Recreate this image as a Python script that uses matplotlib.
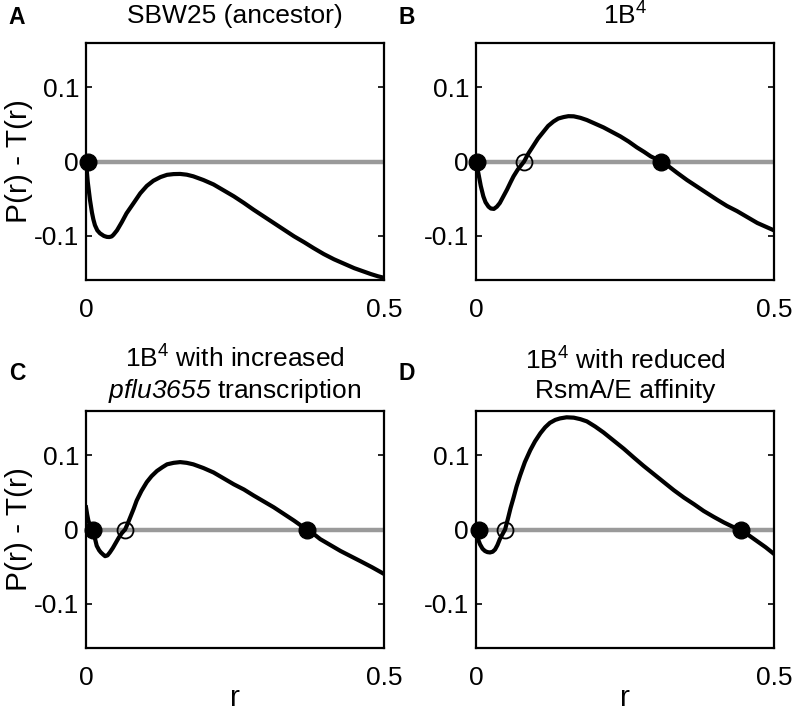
import matplotlib
matplotlib.use("Agg")
import matplotlib.pyplot as plt

plt.rcParams['font.family'] = ['Liberation Sans', 'DejaVu Sans']
plt.rcParams['mathtext.fontset'] = 'custom'
plt.rcParams['mathtext.rm'] = 'Liberation Sans'
plt.rcParams['mathtext.it'] = 'Liberation Sans:italic'
# used for the italic gene name so that its digits are slanted too
plt.rcParams['mathtext.bf'] = 'Liberation Sans:italic'
plt.rcParams['mathtext.default'] = 'regular'

# ---------------- data ----------------
r_A = [0.0, 0.003, 0.0067, 0.010, 0.0123, 0.015, 0.019, 0.0235, 0.030, 0.035, 0.039, 0.043,
       0.046, 0.052, 0.060, 0.068, 0.080, 0.091, 0.102, 0.113, 0.125, 0.136, 0.147, 0.158,
       0.169, 0.180, 0.197, 0.214, 0.231, 0.248, 0.265, 0.281, 0.298, 0.315, 0.332, 0.349,
       0.366, 0.382, 0.399, 0.416, 0.433, 0.450, 0.464, 0.478, 0.490, 0.500]
y_A = [0.0, -0.028, -0.052, -0.069, -0.078, -0.086, -0.093, -0.097, -0.1005, -0.1018, -0.102, -0.1012,
       -0.099, -0.093, -0.082, -0.070, -0.056, -0.043, -0.033, -0.026, -0.021, -0.018, -0.0170, -0.0168,
       -0.0178, -0.020, -0.025, -0.031, -0.039, -0.047, -0.056, -0.065, -0.074, -0.083, -0.092, -0.101,
       -0.109, -0.117, -0.125, -0.132, -0.138, -0.144, -0.148, -0.152, -0.155, -0.157]

r_B = [0.0, 0.004, 0.008, 0.0123, 0.016, 0.021, 0.025, 0.030, 0.035, 0.040, 0.046,
       0.052, 0.058, 0.063, 0.070, 0.0807, 0.088, 0.096, 0.104, 0.113, 0.121, 0.130,
       0.138, 0.147, 0.155, 0.164, 0.175, 0.186, 0.200, 0.214, 0.228, 0.242, 0.256,
       0.270, 0.282, 0.293, 0.311, 0.324, 0.337, 0.354, 0.371, 0.388, 0.405, 0.421,
       0.438, 0.455, 0.472, 0.486, 0.500]
y_B = [0.0, -0.016, -0.033, -0.047, -0.055, -0.061, -0.0635, -0.064, -0.061, -0.056, -0.047,
       -0.038, -0.028, -0.020, -0.011, 0.0, 0.011, 0.021, 0.031, 0.040, 0.048, 0.054,
       0.058, 0.060, 0.0612, 0.061, 0.059, 0.056, 0.051, 0.046, 0.040, 0.034, 0.027,
       0.019, 0.013, 0.007, 0.0, -0.007, -0.015, -0.025, -0.034, -0.043, -0.052, -0.060,
       -0.067, -0.075, -0.083, -0.088, -0.093]

r_C = [0.0, 0.002, 0.004, 0.007, 0.0112, 0.015, 0.018, 0.022, 0.025, 0.029, 0.032,
       0.036, 0.040, 0.045, 0.050, 0.055, 0.060, 0.0656, 0.070, 0.074, 0.080, 0.085,
       0.093, 0.102, 0.110, 0.119, 0.128, 0.136, 0.147, 0.158, 0.169, 0.180, 0.197,
       0.214, 0.231, 0.248, 0.265, 0.281, 0.298, 0.315, 0.332, 0.349, 0.370, 0.382,
       0.393, 0.410, 0.427, 0.444, 0.461, 0.480, 0.500]
y_C = [0.030, 0.020, 0.012, 0.005, 0.0, -0.012, -0.022, -0.028, -0.031, -0.034, -0.036,
       -0.035, -0.031, -0.025, -0.018, -0.011, -0.005, 0.0, 0.008, 0.016, 0.028, 0.039,
       0.052, 0.064, 0.072, 0.079, 0.084, 0.088, 0.090, 0.091, 0.090, 0.088, 0.083,
       0.077, 0.069, 0.061, 0.054, 0.046, 0.038, 0.030, 0.021, 0.012, 0.0, -0.006,
       -0.013, -0.021, -0.029, -0.036, -0.043, -0.051, -0.060]

r_D = [0.0, 0.003, 0.0067, 0.011, 0.015, 0.019, 0.0235, 0.028, 0.032, 0.036, 0.040,
       0.044, 0.0488, 0.054, 0.058, 0.063, 0.068, 0.074, 0.082, 0.091, 0.099, 0.108,
       0.116, 0.124, 0.133, 0.141, 0.152, 0.164, 0.175, 0.186, 0.200, 0.214, 0.231,
       0.248, 0.265, 0.281, 0.298, 0.315, 0.332, 0.349, 0.366, 0.382, 0.399, 0.416,
       0.430, 0.444, 0.458, 0.472, 0.486, 0.500]
y_D = [0.0, -0.012, -0.020, -0.026, -0.029, -0.0305, -0.031, -0.030, -0.027, -0.021, -0.013,
       -0.007, 0.0, 0.016, 0.029, 0.043, 0.058, 0.073, 0.091, 0.107, 0.119, 0.130,
       0.138, 0.144, 0.148, 0.150, 0.1515, 0.151, 0.149, 0.146, 0.139, 0.131, 0.120,
       0.109, 0.097, 0.086, 0.075, 0.064, 0.053, 0.043, 0.034, 0.025, 0.017, 0.0095,
       0.004, 0.0, -0.008, -0.016, -0.024, -0.033]

stable_A = [0.003]
unstable_A = []
stable_B = [0.002, 0.311]
unstable_B = [0.0807]
stable_C = [0.0112, 0.370]
unstable_C = [0.0656]
stable_D = [0.0056, 0.444]
unstable_D = [0.0488]

panel_letters = ['A', 'B', 'C', 'D']
titles = ['SBW25 (ancestor)',
          '1B$^{4}$',
          '1B$^{4}$ with increased\n$\\mathbf{pflu3655}$ transcription',
          '1B$^{4}$ with reduced\nRsmA/E affinity']
y_label = 'P(r) - T(r)'
x_label = 'r'
y_ticks = [-0.1, 0.0, 0.1]
y_ticklabels = ['-0.1', '0', '0.1']
x_ticks = [0.0, 0.5]
x_ticklabels = ['0', '0.5']

curves = [(r_A, y_A), (r_B, y_B), (r_C, y_C), (r_D, y_D)]
stables = [stable_A, stable_B, stable_C, stable_D]
unstables = [unstable_A, unstable_B, unstable_C, unstable_D]

# ---------------- layout ----------------
W, H = 800, 714
fig = plt.figure(figsize=(W / 100, H / 100), dpi=100)

boxes = [(86, 43), (476, 43), (86, 411), (476, 411)]
aw, ah = 298, 237
fs = 19
fs_lab = 21.5

for i, ((lx, ty), (rx, ry)) in enumerate(zip(boxes, curves)):
    ax = fig.add_axes([lx / W, 1 - (ty + ah) / H, aw / W, ah / H])
    ax.set_xlim(0, 0.5)
    ax.set_ylim(-0.16, 0.16)
    ax.plot([0, 0.5], [0, 0], color='#9a9a9a', lw=3.2, solid_capstyle='butt', zorder=2)
    ax.plot(rx, ry, color='black', lw=3.0, zorder=3, solid_joinstyle='round')
    st = stables[i]
    if st:
        ax.plot(st, [0] * len(st), 'o', color='black', ms=12, zorder=5, clip_on=False)
    un = unstables[i]
    if un:
        ax.plot(un, [0] * len(un), 'o', mfc='none', mec='black', mew=1.3, ms=11.5, zorder=5,
                clip_on=False)
    ax.set_yticks(y_ticks)
    ax.set_yticklabels(y_ticklabels)
    ax.set_xticks(x_ticks)
    ax.set_xticklabels(x_ticklabels)
    ax.tick_params(direction='in', length=4, width=1.2, labelsize=fs,
                   top=True, right=True)
    ax.tick_params(axis='y', pad=5)
    ax.tick_params(axis='x', pad=13)
    for sp in ax.spines.values():
        sp.set_linewidth(1.6)

    cx = (lx + aw / 2) / W
    if i < 2:
        fig.text(cx, 1 - 16 / H, titles[i], ha='center', va='center', fontsize=fs)
    else:
        fig.text(cx, 1 - 375 / H, titles[i], ha='center', va='center', fontsize=fs,
                 linespacing=1.22)
    letter_x = (lx - 69) / W
    letter_y = 1 - (18 / H if i < 2 else 373 / H)
    fig.text(letter_x, letter_y, panel_letters[i], ha='center', va='center',
             fontsize=16.5, fontweight='bold')
    if i in (0, 2):
        fig.text(19 / W, 1 - (ty + ah / 2) / H, y_label, rotation=90,
                 ha='center', va='center', fontsize=fs_lab)
    if i >= 2:
        fig.text(cx, 1 - 698 / H, x_label, ha='center', va='center', fontsize=fs_lab)

fig.savefig('out.png', dpi=100)
